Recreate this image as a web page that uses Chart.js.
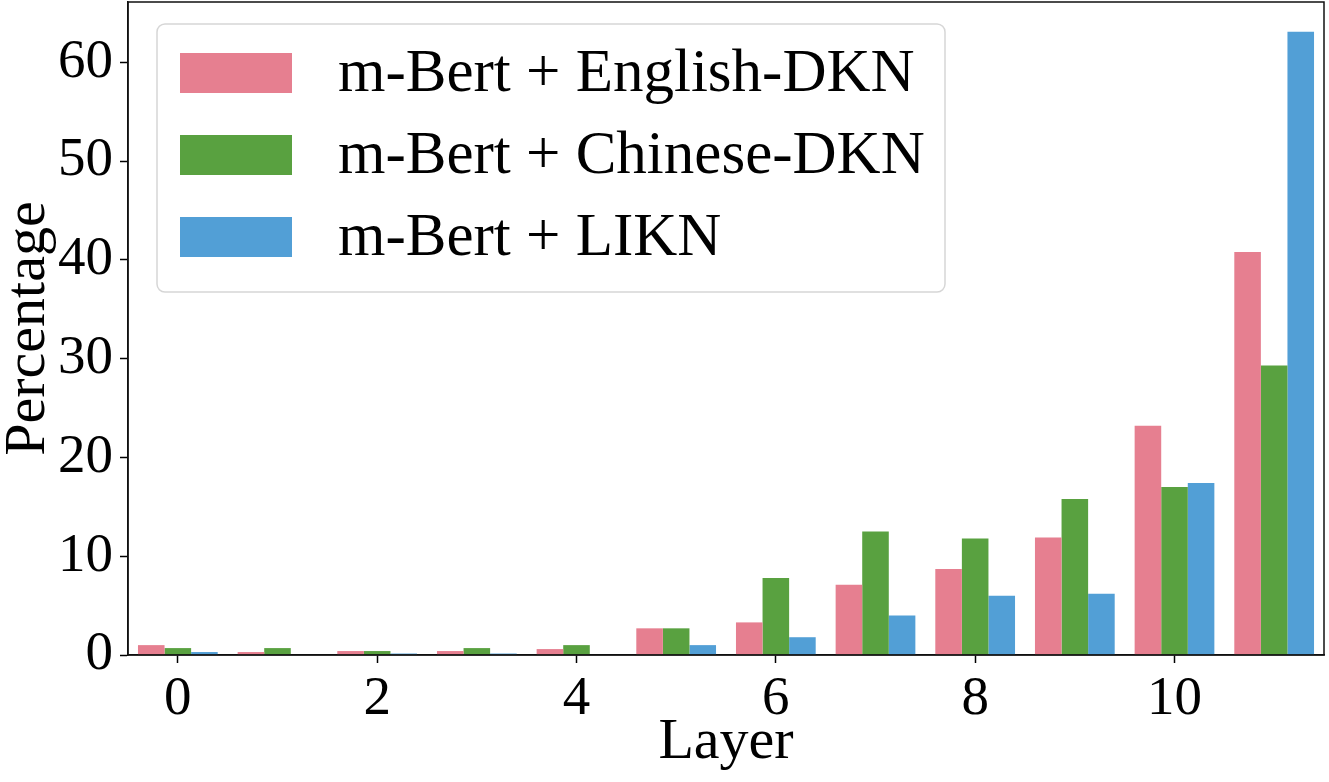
<!DOCTYPE html>
<html>
<head>
<meta charset="utf-8">
<script src="https://cdn.jsdelivr.net/npm/chart.js@4"></script>
<style>
    html, body { margin: 0; padding: 0; background: #fff; }
    #wrap { width: 1329px; height: 782px; }
</style>
</head>
<body>
<div id="wrap"><canvas id="chart"></canvas></div>
<script>
// Data
const layers = ['0', '1', '2', '3', '4', '5', '6', '7', '8', '9', '10', '11'];
const englishDkn = [1.0, 0.3, 0.4, 0.4, 0.6, 2.7, 3.3, 7.1, 8.7, 11.9, 23.2, 40.8];
const chineseDkn = [0.7, 0.7, 0.4, 0.7, 1.0, 2.7, 7.8, 12.5, 11.8, 15.8, 17.0, 29.3];
const likn = [0.3, 0.0, 0.15, 0.15, 0.0, 1.0, 1.8, 4.0, 6.0, 6.2, 17.4, 63.1];
const seriesNames = ['m-Bert + English-DKN', 'm-Bert + Chinese-DKN', 'm-Bert + LIKN'];
const seriesColors = ['#e67f90', '#59a140', '#529fd6'];

const serif = '"Liberation Serif", "Times New Roman", serif';

// Frame around the plot area (matplotlib style box)
const framePlugin = {
    id: 'frame',
    afterDatasetsDraw(chart) {
        const { ctx, chartArea: a } = chart;
        ctx.save();
        ctx.strokeStyle = '#111';
        ctx.lineWidth = 1.5;
        ctx.strokeRect(a.left, a.top, a.right - a.left, a.bottom - a.top);
        ctx.restore();
    }
};

// Legend drawn inside the plot, top-left, in a rounded box
const insideLegend = {
    id: 'insideLegend',
    afterDraw(chart) {
        const { ctx } = chart;
        const x = 157, y = 24, w = 788, h = 268, r = 8;
        ctx.save();
        ctx.beginPath();
        ctx.roundRect(x, y, w, h, r);
        ctx.fillStyle = 'rgba(255,255,255,0.8)';
        ctx.fill();
        ctx.strokeStyle = '#d6d6d6';
        ctx.lineWidth = 1.5;
        ctx.stroke();
        ctx.font = '61px ' + serif;
        ctx.textBaseline = 'middle';
        chart.data.datasets.forEach((ds, i) => {
            const cy = 73 + i * 82;
            ctx.fillStyle = ds.backgroundColor;
            ctx.fillRect(180, cy - 20, 112, 40);
            ctx.fillStyle = '#000';
            ctx.fillText(ds.label, 338, cy + 2);
        });
        ctx.restore();
    }
};

const datasets = [englishDkn, chineseDkn, likn].map((vals, i) => ({
    label: seriesNames[i],
    data: vals,
    backgroundColor: seriesColors[i],
    borderWidth: 0,
    categoryPercentage: 0.8,
    barPercentage: 1.0
}));

new Chart(document.getElementById('chart'), {
    type: 'bar',
    data: { labels: layers, datasets: datasets },
    plugins: [framePlugin, insideLegend],
    options: {
        responsive: true,
        maintainAspectRatio: false,
        animation: false,
        layout: { padding: { top: 2, right: 5, left: 0, bottom: 0 } },
        plugins: {
            legend: { display: false },
            tooltip: { enabled: false }
        },
        scales: {
            x: {
                grid: {
                    offset: false,
                    drawOnChartArea: false,
                    tickLength: 8,
                    tickWidth: 1.5,
                    tickColor: (c) => (c.index % 2 === 0 ? '#000' : 'rgba(0,0,0,0)')
                },
                border: { display: true, color: '#111', width: 1.5 },
                ticks: {
                    color: '#000',
                    font: { family: serif, size: 55 },
                    padding: 4,
                    maxRotation: 0,
                    autoSkip: false,
                    callback: (v, i) => (i % 2 === 0 ? layers[i] : '')
                },
                title: {
                    display: true,
                    text: 'Layer',
                    color: '#000',
                    font: { family: serif, size: 58 },
                    padding: { top: 0, bottom: 4 }
                },
                afterFit: (axis) => {
                    axis.height = 127;
                    axis.paddingLeft = 0;
                    axis.paddingRight = 0;
                }
            },
            y: {
                min: 0,
                max: 66.1,
                grid: {
                    drawOnChartArea: false,
                    tickLength: 8,
                    tickWidth: 1.5,
                    tickColor: '#000'
                },
                border: { display: true, color: '#111', width: 1.5 },
                ticks: {
                    stepSize: 10,
                    includeBounds: false,
                    color: '#000',
                    font: { family: serif, size: 55 },
                    padding: 7
                },
                title: {
                    display: true,
                    text: 'Percentage',
                    color: '#000',
                    font: { family: serif, size: 58, lineHeight: 1 },
                    padding: { top: 0, bottom: 0 }
                },
                afterFit: (axis) => {
                    axis.width = 128;
                    axis.paddingTop = 0;
                    axis.paddingBottom = 0;
                }
            }
        }
    }
});
</script>
</body>
</html>
